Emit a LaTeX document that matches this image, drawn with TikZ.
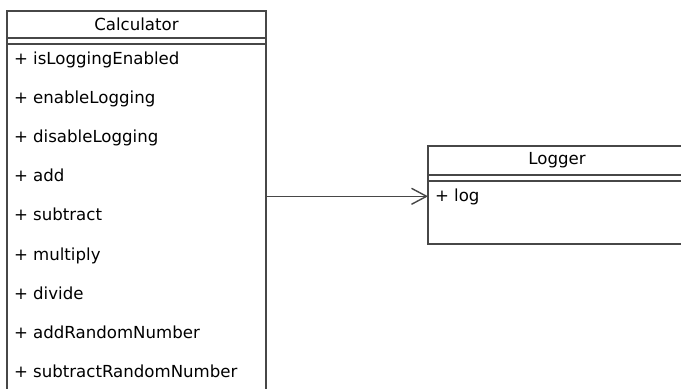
\documentclass[tikz,border=0pt]{standalone}
\usepackage{fontspec}
\setmainfont{DejaVu Sans}
\usetikzlibrary{arrows.meta,positioning}

\begin{document}
\begin{tikzpicture}[x=0.5pt,y=-0.5pt]
\tikzstyle{box}=[draw=black!72,line width=0.7pt,outer sep=0pt,inner sep=0pt,anchor=north west,font=\fontsize{8.3}{10}\selectfont]
\tikzstyle{member}=[inner sep=0pt,outer sep=0pt,font=\fontsize{8.3}{10}\selectfont,text height=6.5pt,text depth=1.8pt]
\tikzstyle{uses}=[draw=black!72,line width=0.7pt,-{Straight Barb[length=7.5pt,width=8pt]}]

\clip (0,0) rectangle (681,388);

% Calculator class
\node (calc) [box,minimum width=129.5pt,minimum height=13.5pt] at (7,11) {Calculator};
\node (calcattr) [box,minimum width=129.5pt,minimum height=3pt] at (calc.south west) {};
\node (calcops) [box,minimum width=129.5pt,minimum height=178pt] at (calcattr.south west) {};

\node (isLog) [member,below right=3.5pt and 3.5pt of calcops.north west,anchor=north west] {+ isLoggingEnabled};
\node (enLog) [member,below=11.3pt of isLog.south west,anchor=north west] {+ enableLogging};
\node (disLog) [member,below=11.3pt of enLog.south west,anchor=north west] {+ disableLogging};
\node (add) [member,below=11.3pt of disLog.south west,anchor=north west] {+ add};
\node (sub) [member,below=11.3pt of add.south west,anchor=north west] {+ subtract};
\node (mul) [member,below=11.3pt of sub.south west,anchor=north west] {+ multiply};
\node (div) [member,below=11.3pt of mul.south west,anchor=north west] {+ divide};
\node (addRnd) [member,below=11.3pt of div.south west,anchor=north west] {+ addRandomNumber};
\node (subRnd) [member,below=11.3pt of addRnd.south west,anchor=north west] {+ subtractRandomNumber};

% Logger class
\node (logger) [box,minimum width=129pt,minimum height=14.5pt] at (428,146) {Logger};
\node (logattr) [box,minimum width=129pt,minimum height=3pt] at (logger.south west) {};
\node (logops) [box,minimum width=129pt,minimum height=31.5pt] at (logattr.south west) {};

\node (log) [member,below right=3.5pt and 3.5pt of logops.north west,anchor=north west] {+ log};

% dependency
\draw [uses] (calcops.east |- log) -- (logops.west |- log);

\end{tikzpicture}
\end{document}
